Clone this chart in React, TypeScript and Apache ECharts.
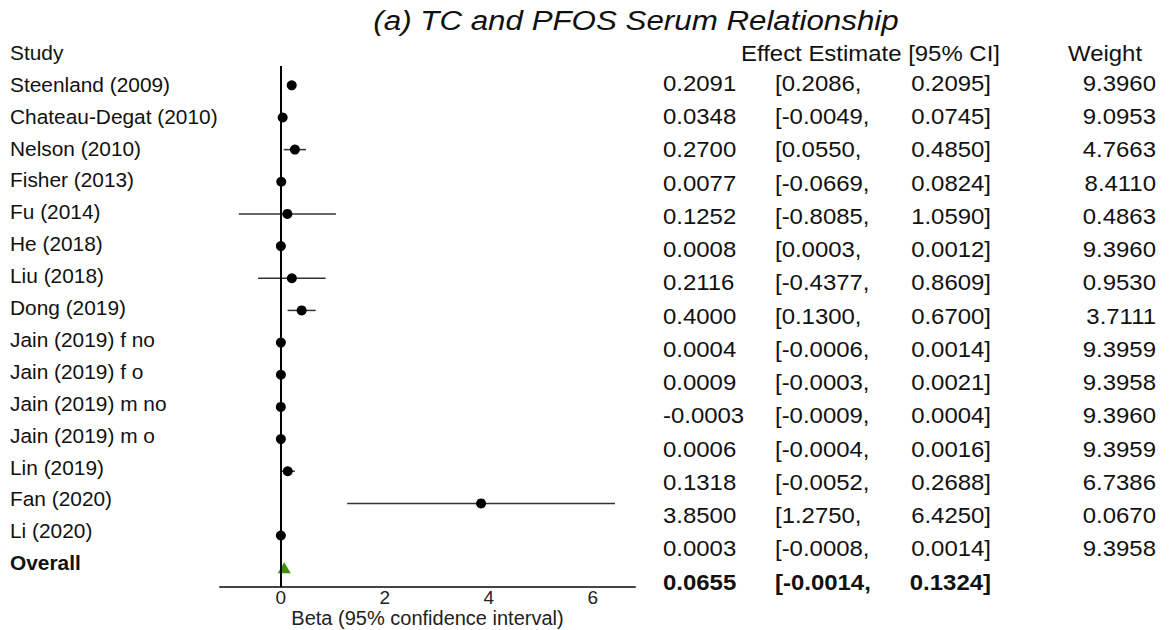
import React, { useEffect, useRef } from "react";
import * as echarts from "echarts";

const titleText = "(a) TC and PFOS Serum Relationship";
const studyHeader = "Study";
const estimateHeader = "Effect Estimate [95% CI]";
const weightHeader = "Weight";
const xAxisName = "Beta (95% confidence interval)";
const overallLabel = "Overall";

const studies = [
  "Steenland (2009)",
  "Chateau-Degat (2010)",
  "Nelson (2010)",
  "Fisher (2013)",
  "Fu (2014)",
  "He (2018)",
  "Liu (2018)",
  "Dong (2019)",
  "Jain (2019) f no",
  "Jain (2019) f o",
  "Jain (2019) m no",
  "Jain (2019) m o",
  "Lin (2019)",
  "Fan (2020)",
  "Li (2020)",
];
const estimates = [0.2091, 0.0348, 0.27, 0.0077, 0.1252, 0.0008, 0.2116, 0.4, 0.0004, 0.0009, -0.0003, 0.0006, 0.1318, 3.85, 0.0003];
const lowers = [0.2086, -0.0049, 0.055, -0.0669, -0.8085, 0.0003, -0.4377, 0.13, -0.0006, -0.0003, -0.0009, -0.0004, -0.0052, 1.275, -0.0008];
const uppers = [0.2095, 0.0745, 0.485, 0.0824, 1.059, 0.0012, 0.8609, 0.67, 0.0014, 0.0021, 0.0004, 0.0016, 0.2688, 6.425, 0.0014];
const weights = [9.396, 9.0953, 4.7663, 8.411, 0.4863, 9.396, 0.953, 3.7111, 9.3959, 9.3958, 9.396, 9.3959, 6.7386, 0.067, 9.3958];

const overallEstimate = 0.0655;
const overallLower = -0.0014;
const overallUpper = 0.1324;

const xTicks = [0, 2, 4, 6];

const FONT = "'Liberation Sans', Arial, Helvetica, sans-serif";

function txt(text: string, x: number, y: number, o: any = {}) {
  return {
    type: "text",
    x,
    y,
    scaleX: o.scaleX ?? 1,
    silent: true,
    style: {
      text,
      fontSize: o.fontSize ?? 19,
      fontFamily: FONT,
      fontWeight: o.fontWeight ?? "normal",
      fontStyle: o.fontStyle ?? "normal",
      fill: o.fill ?? "#111",
      align: o.align ?? "left",
      verticalAlign: "middle",
    },
  };
}

export default function App() {
  const ref = useRef<HTMLDivElement>(null);

  useEffect(() => {
    if (!ref.current) return;
    const chart = echarts.init(ref.current, null, { renderer: "svg" });

    const n = studies.length;
    const graphics: any[] = [];
    // title
    graphics.push(txt(titleText, 636, 21, { fontSize: 27, fontStyle: "italic", align: "center", scaleX: 1.16 }));
    // left labels
    const labSX = 1.06;
    const labFS = 19.7;
    graphics.push(txt(studyHeader, 10, 53, { scaleX: labSX, fontSize: labFS }));
    studies.forEach((s, i) => graphics.push(txt(s, 10, 85 + 31.9 * i, { scaleX: labSX, fontSize: labFS })));
    graphics.push(txt(overallLabel, 10, 85 + 31.9 * n, { scaleX: labSX, fontSize: labFS, fontWeight: "bold" }));
    // right table
    const tSX = 1.06;
    const tFS = 22.6;
    graphics.push(txt(estimateHeader, 741, 53, { scaleX: tSX, fontSize: tFS }));
    graphics.push(txt(weightHeader, 1068, 53, { scaleX: tSX, fontSize: tFS }));
    const rows = studies.map((_, i) => ({ e: estimates[i], l: lowers[i], u: uppers[i], w: weights[i] as number | null, bold: false }));
    rows.push({ e: overallEstimate, l: overallLower, u: overallUpper, w: null, bold: true });
    rows.forEach((r, i) => {
      const y = 83 + 33.25 * i;
      const fw = r.bold ? "bold" : "normal";
      graphics.push(txt(r.e.toFixed(4), 663, y, { scaleX: tSX, fontSize: tFS, fontWeight: fw }));
      graphics.push(txt("[" + r.l.toFixed(4) + ",", 775, y, { scaleX: tSX, fontSize: tFS, fontWeight: fw }));
      graphics.push(txt(r.u.toFixed(4) + "]", 991, y, { scaleX: tSX, fontSize: tFS, fontWeight: fw, align: "right" }));
      if (r.w !== null) graphics.push(txt(r.w.toFixed(4), 1156, y, { scaleX: tSX, fontSize: tFS, align: "right" }));
    });

    chart.setOption({
      animation: false,
      backgroundColor: "#fff",
      grid: { left: 220, right: 534, top: 66, bottom: 43, containLabel: false, outerBoundsMode: "none" },
      xAxis: {
        type: "value",
        min: -1.17,
        max: 6.81,
        axisLine: { show: true, onZero: false, lineStyle: { color: "#444", width: 2 } },
        axisTick: { show: false },
        splitLine: { show: false },
        axisLabel: { customValues: xTicks, fontSize: 19, lineHeight: 16, color: "#222", fontFamily: FONT, margin: 2 },
        name: xAxisName,
        nameLocation: "middle",
        nameGap: 22,
        nameMoveOverlap: false,
        nameTextStyle: { fontSize: 20, lineHeight: 18, color: "#222", fontFamily: FONT },
      },
      yAxis: {
        type: "value",
        inverse: true,
        min: -0.6,
        max: 15.6,
        show: false,
      },
      series: [
        {
          type: "custom",
          z: 1,
          renderItem: (params: any, api: any) => {
            const s = api.coord([api.value(0), api.value(2)]);
            const e = api.coord([api.value(1), api.value(2)]);
            return {
              type: "line",
              shape: { x1: s[0], y1: s[1], x2: e[0], y2: e[1] },
              style: { stroke: "#333", lineWidth: 1.5 },
            };
          },
          encode: { x: [0, 1], y: 2 },
          data: studies.map((_, i) => [lowers[i], uppers[i], i]),
          silent: true,
        },
        {
          type: "scatter",
          z: 3,
          symbol: "circle",
          symbolSize: 10,
          itemStyle: { color: "#000", opacity: 1 },
          data: studies.map((_, i) => [estimates[i], i]),
          silent: true,
          markLine: {
            silent: true,
            symbol: "none",
            label: { show: false },
            lineStyle: { color: "#000", width: 2, type: "solid", opacity: 1 },
            data: [{ xAxis: 0 }],
          },
        },
        {
          type: "scatter",
          z: 3,
          symbol: "triangle",
          symbolSize: [13, 11],
          itemStyle: { color: "#3f8f0c", opacity: 1 },
          data: [[overallEstimate, n]],
          silent: true,
        },
      ],
      graphic: graphics,
    });

    return () => chart.dispose();
  }, []);

  return (
    <div
      ref={ref}
      style={{ position: "fixed", left: 0, top: 0, width: 1169, height: 630, background: "#fff" }}
    />
  );
}
